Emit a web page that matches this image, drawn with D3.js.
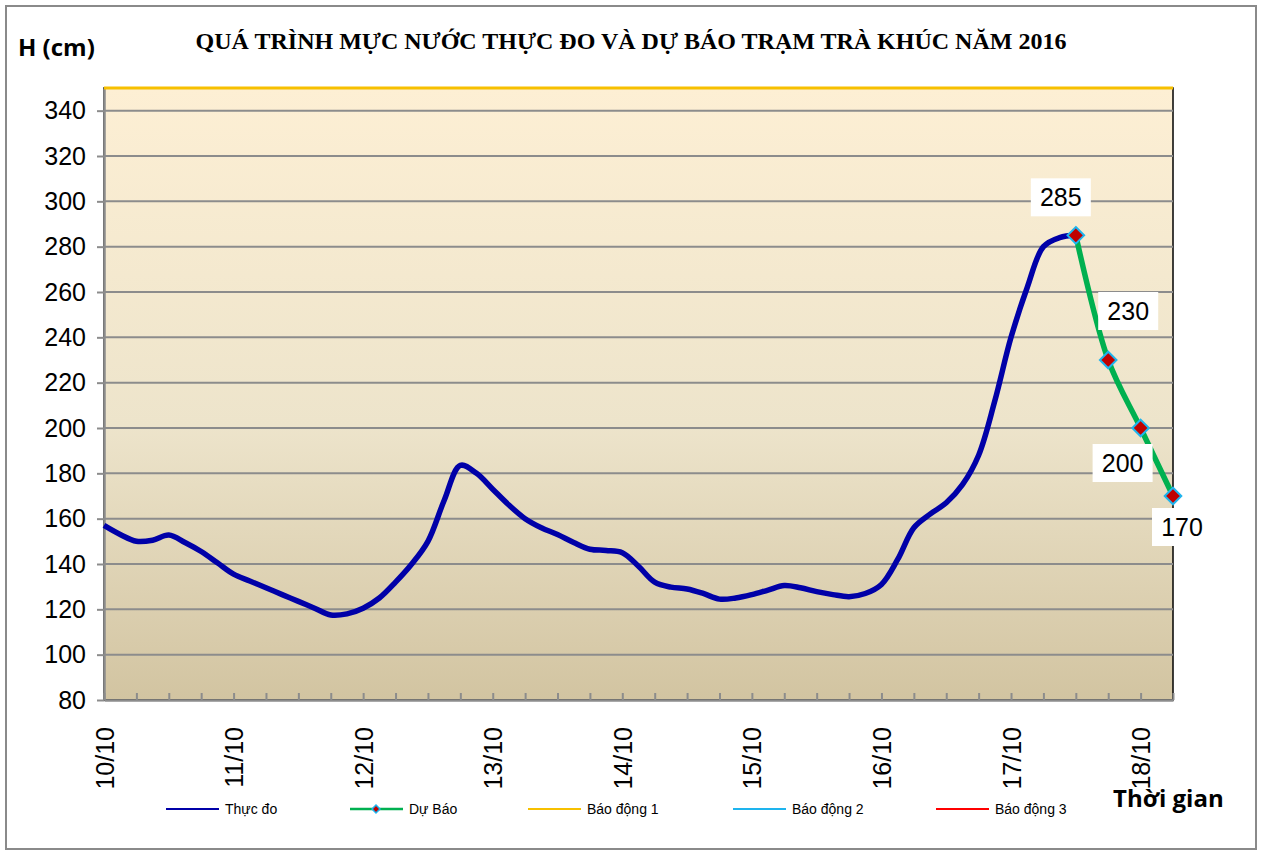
<!DOCTYPE html>
<html lang="vi">
<head>
    <meta charset="UTF-8">
    <title>Mực nước trạm Trà Khúc 2016</title>
    <script src="https://d3js.org/d3.v7.min.js"></script>
    <style>
        body { margin: 0; background: #fff; }
    </style>
</head>
<body>
    <div id="chart"></div>
    <script>
        // Thực đo: water level every 3 hours, from 10/10 00h to 17/10 12h
        const obsStart = new Date(2016, 9, 10, 0);
        const obsValues = [
            157, 153, 150, 150.5, 152.8, 149.5, 145.5, 140.5,
            135.5, 132.5, 129.5, 126.5, 123.5, 120.5, 117.5, 118,
            120.5, 125, 132, 140, 150, 168, 183.5, 180,
            173, 166, 160, 156, 153, 149.5, 146.5, 146,
            145, 139, 132, 129.8, 129, 127, 124.5, 125,
            126.5, 128.5, 130.5, 129.5, 127.8, 126.5, 125.6, 127,
            131, 142, 156, 162, 167, 175, 188, 212,
            240, 262, 280, 284, 285
        ];

        // Dự báo: every 6 hours from 17/10 12h
        const fcStart = new Date(2016, 9, 17, 12);
        const fcValues = [285, 230, 200, 170];

        // alarm levels (cm)
        const alarmNames = ["Báo động 1", "Báo động 2", "Báo động 3"];
        const alarmValues = [350, 500, 650];

        const yTicks = [80, 100, 120, 140, 160, 180, 200, 220, 240, 260, 280, 300, 320, 340];
        const legendNames = ["Thực đo", "Dự Báo", "Báo động 1", "Báo động 2", "Báo động 3"];

        const obs = obsValues.map((v, i) => ({ date: d3.timeHour.offset(obsStart, 3 * i), value: v }));
        const fc = fcValues.map((v, i) => ({ date: d3.timeHour.offset(fcStart, 6 * i), value: v }));

        const W = 1262, H = 851;
        const margin = { top: 88, right: 89, bottom: 151, left: 104 };
        const sans = "'Liberation Sans', Arial, sans-serif";

        const svg = d3.select("#chart").append("svg")
            .attr("width", W)
            .attr("height", H)
            .style("font-family", sans);

        // outer frame
        svg.append("rect")
            .attr("x", 6).attr("y", 6)
            .attr("width", 1250).attr("height", 843)
            .attr("fill", "#fff")
            .attr("stroke", "#8a8a8a")
            .attr("stroke-width", 2);

        const x = d3.scaleTime()
            .domain([obsStart, new Date(2016, 9, 18, 6)])
            .range([margin.left, W - margin.right]);

        const y = d3.scaleLinear()
            .domain([80, 350])
            .range([H - margin.bottom, margin.top]);

        // plot background gradient
        const grad = svg.append("defs").append("linearGradient")
            .attr("id", "bg")
            .attr("x1", 0).attr("y1", 0).attr("x2", 0).attr("y2", 1);
        grad.append("stop").attr("offset", "0%").attr("stop-color", "#fdefd4");
        grad.append("stop").attr("offset", "55%").attr("stop-color", "#ede4cb");
        grad.append("stop").attr("offset", "100%").attr("stop-color", "#d2c4a1");

        svg.append("rect")
            .attr("x", x.range()[0])
            .attr("y", y.range()[1])
            .attr("width", x.range()[1] - x.range()[0])
            .attr("height", y.range()[0] - y.range()[1])
            .attr("fill", "url(#bg)")
            .attr("stroke", "#000")
            .attr("stroke-width", 1.5);

        // gridlines
        svg.append("g")
            .selectAll("line")
            .data(yTicks.slice(1))
            .join("line")
            .attr("x1", x.range()[0])
            .attr("x2", x.range()[1])
            .attr("y1", d => y(d))
            .attr("y2", d => y(d))
            .attr("stroke", "#8c8c8c")
            .attr("stroke-width", 2);

        // Y axis
        const yAxis = svg.append("g")
            .attr("transform", `translate(${margin.left},0)`)
            .call(d3.axisLeft(y).tickValues(yTicks).tickSize(7).tickSizeOuter(0).tickPadding(11));
        yAxis.select(".domain").attr("stroke", "#8c8c8c").attr("stroke-width", 2.5);
        yAxis.selectAll(".tick line").attr("stroke", "#8c8c8c").attr("stroke-width", 2);
        yAxis.selectAll(".tick text")
            .attr("font-size", 25)
            .attr("font-family", sans)
            .attr("fill", "#000");

        // X axis: 6-hour tick marks inside the plot
        const xTicks = svg.append("g")
            .attr("transform", `translate(0,${y.range()[0]})`)
            .call(d3.axisBottom(x).ticks(d3.timeHour.every(6)).tickSize(-7).tickSizeOuter(0).tickFormat(""));
        xTicks.select(".domain").attr("stroke", "#8c8c8c").attr("stroke-width", 2.5);
        xTicks.selectAll(".tick line").attr("stroke", "#8c8c8c").attr("stroke-width", 2);

        // X labels, one per day, rotated
        const xLab = svg.append("g")
            .attr("transform", `translate(0,${y.range()[0]})`)
            .call(d3.axisBottom(x).ticks(d3.timeDay.every(1)).tickSize(0).tickFormat(d3.timeFormat("%d/%m")));
        xLab.select(".domain").remove();
        xLab.selectAll(".tick text")
            .attr("font-size", 25)
            .attr("font-family", sans)
            .attr("fill", "#000")
            .attr("text-anchor", "end")
            .attr("transform", "rotate(-90)")
            .attr("x", -27)
            .attr("y", 0)
            .attr("dy", "0.36em");

        // alarm lines inside the domain
        svg.append("g")
            .selectAll("line")
            .data(alarmValues.filter(v => v <= y.domain()[1]))
            .join("line")
            .attr("x1", x.range()[0])
            .attr("x2", x.range()[1])
            .attr("y1", d => y(d))
            .attr("y2", d => y(d))
            .attr("stroke", "#f7c000")
            .attr("stroke-width", 3);

        // observed line
        const line = d3.line()
            .x(d => x(d.date))
            .y(d => y(d.value))
            .curve(d3.curveCatmullRom.alpha(0.5));

        svg.append("path")
            .datum(obs)
            .attr("fill", "none")
            .attr("stroke", "#0000a8")
            .attr("stroke-width", 5.5)
            .attr("stroke-linejoin", "round")
            .attr("d", line);

        // forecast line
        svg.append("path")
            .datum(fc)
            .attr("fill", "none")
            .attr("stroke", "#00b050")
            .attr("stroke-width", 5.5)
            .attr("d", line);

        const diamond = d3.symbol().type(d3.symbolDiamond2).size(175);

        svg.append("g")
            .selectAll("path")
            .data(fc)
            .join("path")
            .attr("transform", d => `translate(${x(d.date)},${y(d.value)})`)
            .attr("d", diamond)
            .attr("fill", "#c00000")
            .attr("stroke", "#1eb4ee")
            .attr("stroke-width", 2);

        // data labels (offsets from each point)
        const labelOffsets = [[-15, -38], [20, -49], [-18, 35], [9, 31]];
        const labels = svg.append("g")
            .selectAll("g")
            .data(fc)
            .join("g")
            .attr("transform", (d, i) => `translate(${x(d.date) + labelOffsets[i][0]},${y(d.value) + labelOffsets[i][1]})`);
        labels.append("rect")
            .attr("x", -30).attr("y", -19)
            .attr("width", 60).attr("height", 38)
            .attr("fill", "#fff");
        labels.append("text")
            .attr("text-anchor", "middle")
            .attr("dy", "0.36em")
            .attr("font-size", 25)
            .text(d => d.value);

        // title
        svg.append("text")
            .attr("x", 631)
            .attr("y", 49)
            .attr("text-anchor", "middle")
            .style("font-family", "'Liberation Serif', 'Times New Roman', serif")
            .attr("font-weight", "bold")
            .attr("font-size", 24)
            .text("QUÁ TRÌNH MỰC NƯỚC THỰC ĐO VÀ DỰ BÁO TRẠM TRÀ KHÚC NĂM 2016");

        svg.append("text")
            .attr("x", 18)
            .attr("y", 56)
            .style("font-family", "'Open Sans', sans-serif")
            .attr("font-weight", "bold")
            .attr("font-size", 24)
            .text("H (cm)");

        svg.append("text")
            .attr("x", 1113)
            .attr("y", 807)
            .style("font-family", "'Open Sans', sans-serif")
            .attr("font-weight", "bold")
            .attr("font-size", 24)
            .text("Thời gian");

        // legend
        const legendColors = ["#0000a8", "#00b050", "#f7c000", "#1eb4ee", "#ff0000"];
        const legendX = [166, 350, 528, 733, 936];
        const legend = svg.append("g")
            .selectAll("g")
            .data(legendNames)
            .join("g")
            .attr("transform", (d, i) => `translate(${legendX[i]},809)`);
        legend.append("line")
            .attr("x1", 0).attr("x2", 53)
            .attr("stroke", (d, i) => legendColors[i])
            .attr("stroke-width", (d, i) => i === 1 ? 2.5 : 2);
        legend.filter((d, i) => i === 1).append("path")
            .attr("transform", "translate(26,0)")
            .attr("d", d3.symbol().type(d3.symbolDiamond2).size(40))
            .attr("fill", "#c00000")
            .attr("stroke", "#1eb4ee")
            .attr("stroke-width", 1.5);
        legend.append("text")
            .attr("x", 59)
            .attr("dy", "0.36em")
            .attr("font-size", 14)
            .text(d => d);
    </script>
</body>
</html>
